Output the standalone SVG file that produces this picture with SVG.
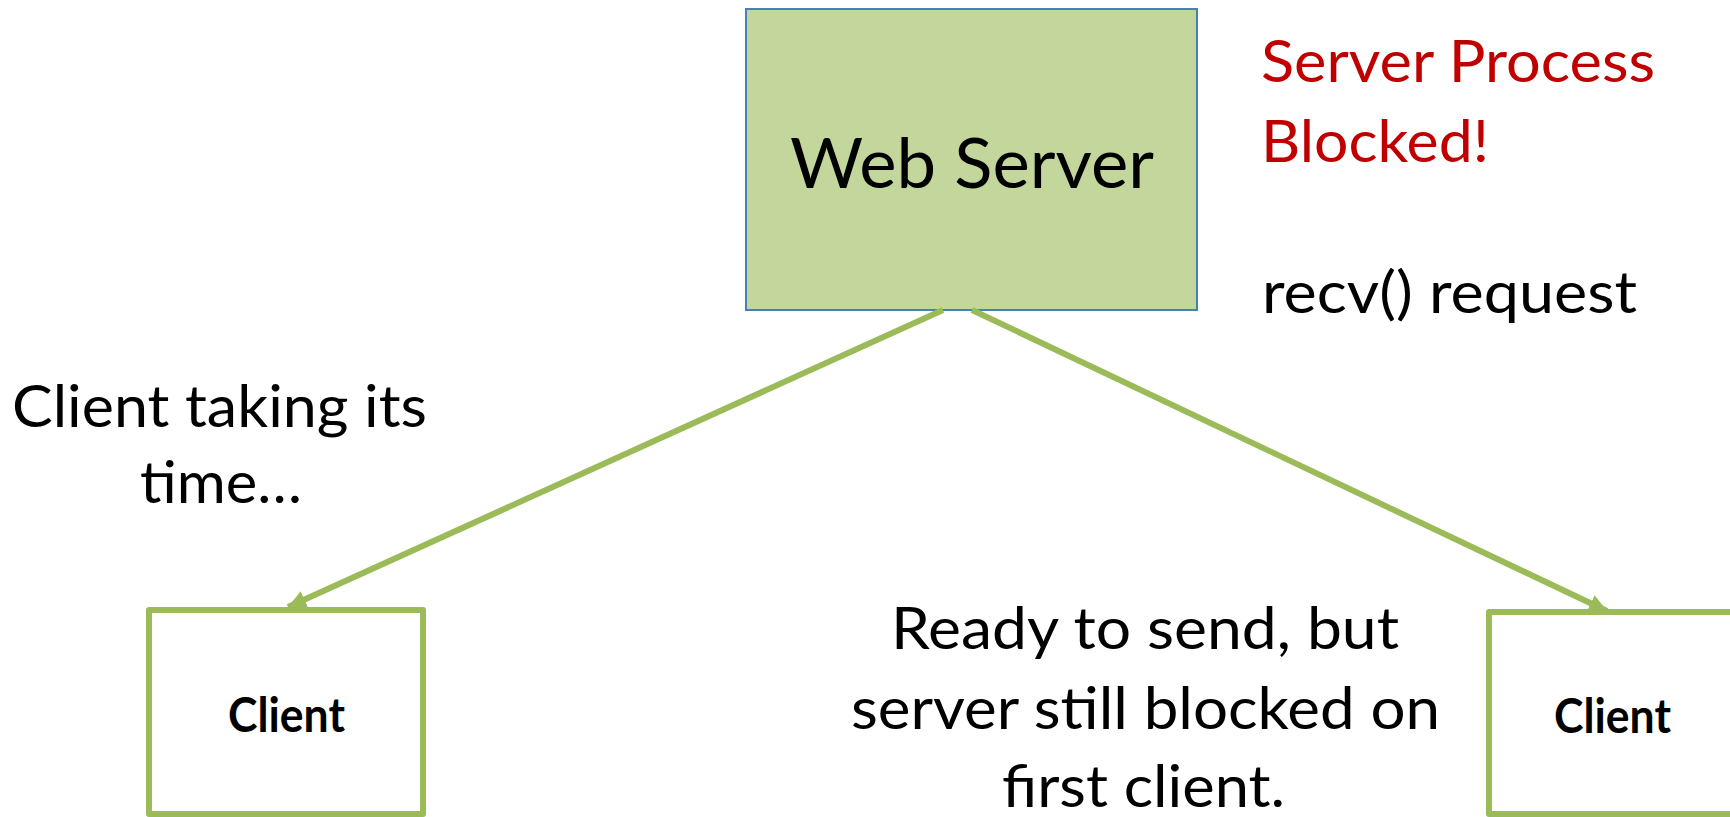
<svg xmlns="http://www.w3.org/2000/svg" width="1730" height="817" viewBox="0 0 1730 817">
<defs>
<style>
.t{font-family:Lato,"Liberation Sans",sans-serif;fill:#000}
.big{font-size:69px}
.mid{font-size:59px}
.red{fill:#c00000}
.cl{font-family:Lato,"Liberation Sans",sans-serif;font-weight:bold;font-size:47px;fill:#000}
.conn{stroke:#9bbb59;stroke-width:6;fill:none}
.client{fill:#fff;stroke:#9bbb59;stroke-width:6;stroke-linejoin:round}
</style>
<marker id="arr" markerUnits="userSpaceOnUse" markerWidth="20" markerHeight="18" refX="18" refY="9" orient="auto">
<path d="M0,0 L18,9 L0,18 Z" fill="#9bbb59"/>
</marker>
</defs>
<rect width="1730" height="817" fill="#fff"/>
<g id="web-server">
<rect x="746" y="9" width="451" height="301" fill="#c3d69b" stroke="#4a7ebb" stroke-width="2"/>
<text class="t big" x="790" y="188" textLength="364" lengthAdjust="spacingAndGlyphs">Web Server</text>
</g>
<g id="client-left">
<rect class="client" x="149" y="610" width="274" height="204"/>
<text class="cl" x="228" y="732" textLength="117" lengthAdjust="spacingAndGlyphs">Client</text>
</g>
<g id="client-right">
<rect class="client" x="1489" y="612" width="280" height="202"/>
<text class="cl" x="1554" y="733" textLength="117" lengthAdjust="spacingAndGlyphs">Client</text>
</g>
<g id="connectors">
<line class="conn" x1="943" y1="310" x2="288" y2="607" marker-end="url(#arr)"/>
<line class="conn" x1="972" y1="310" x2="1607" y2="611" marker-end="url(#arr)"/>
</g>
<g id="labels">
<text class="t mid red" x="1261" y="82" textLength="394" lengthAdjust="spacingAndGlyphs">Server Process</text>
<text class="t mid red" x="1261" y="162" textLength="228" lengthAdjust="spacingAndGlyphs">Blocked!</text>
<text class="t mid" x="1262" y="313" textLength="375" lengthAdjust="spacingAndGlyphs">recv() request</text>
<text class="t mid" x="12" y="427" textLength="415" lengthAdjust="spacingAndGlyphs">Client taking its</text>
<text class="t mid" x="140" y="503" textLength="162" lengthAdjust="spacingAndGlyphs">time…</text>
<text class="t mid" x="891" y="649" textLength="508" lengthAdjust="spacingAndGlyphs">Ready to send, but</text>
<text class="t mid" x="851" y="729" textLength="589" lengthAdjust="spacingAndGlyphs">server still blocked on</text>
<text class="t mid" x="1002" y="807" textLength="283" lengthAdjust="spacingAndGlyphs">first client.</text>
</g>
</svg>
